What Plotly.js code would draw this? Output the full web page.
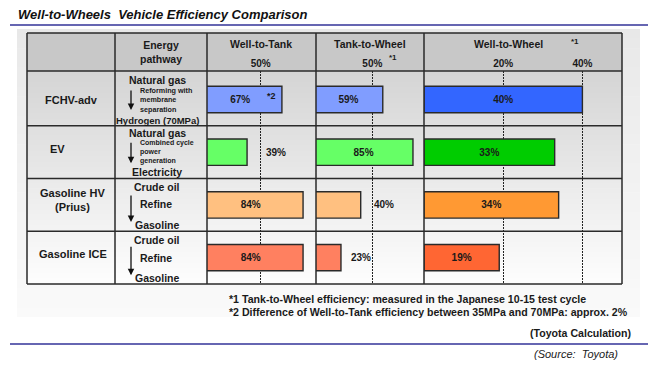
<!DOCTYPE html>
<html>
<head>
<meta charset="utf-8">
<script src="https://cdn.plot.ly/plotly-3.0.1.min.js"></script>
<style>
  html, body { margin: 0; padding: 0; background: #ffffff; }
  #chart { width: 660px; height: 366px; }
</style>
</head>
<body>
<div id="chart"></div>
<script>
// ---------------- DATA ----------------
const vehicles = ['FCHV-adv', 'EV', 'Gasoline HV (Prius)', 'Gasoline ICE'];
const vehicleLabels = ['FCHV-adv', 'EV', 'Gasoline HV<br>(Prius)', 'Gasoline ICE'];
const wellToTank = [67, 39, 84, 84];
const tankToWheel = [59, 85, 40, 23];
const wellToWheel = [40, 33, 34, 19];
const pathwaySource = ['Natural gas', 'Natural gas', 'Crude oil', 'Crude oil'];
const pathwayProcess = [
  ['Reforming with', 'membrane', 'separation'],
  ['Combined cycle', 'power', 'generation'],
  ['Refine'],
  ['Refine']
];
const pathwayProduct = ['Hydrogen (70MPa)', 'Electricity', 'Gasoline', 'Gasoline'];
const stageTitles = ['Well-to-Tank', 'Tank-to-Wheel', 'Well-to-Wheel'];
const wttTickVals = [50];
const ttwTickVals = [50];
const wtwTickVals = [20, 40];
const footnotes = [
  '*1 Tank-to-Wheel efficiency: measured in the Japanese 10-15 test cycle',
  '*2 Difference of Well-to-Tank efficiency between 35MPa and 70MPa: approx. 2%'
];
const calcNote = '(Toyota Calculation)';
const sourceNote = '(Source:  Toyota)';
const chartTitle = 'Well-to-Wheels  Vehicle Efficiency Comparison';

// ---------------- STYLE ----------------
const W = 660, H = 366;
const px = v => v / W;
const py = v => 1 - v / H;
const FONT = 'Arial, "Liberation Sans", Helvetica, sans-serif';
const TXT = '#1a1a1a';
const LINE = '#2a2a2a';
const lightColors = ['#809dff', '#66ff66', '#ffc080', '#ff8060'];
const darkColors = ['#3366ff', '#00cc00', '#ff9933', '#ff6633'];
const wttLabelPos = ['inside', 'outside', 'inside', 'inside'];
const ttwLabelPos = ['inside', 'inside', 'outside', 'outside'];
const wtwLabelPos = ['inside', 'inside', 'inside', 'inside'];

// table geometry (pixels)
const colX = [27, 115, 207, 316, 424, 622];
const tableTop = 33, headBottom = 71, tableBottom = 284;

const pct = v => v + '%';

function barTrace(values, colors, xaxis, labelPos) {
  return {
    type: 'bar', orientation: 'h',
    x: values, y: vehicles,
    xaxis: xaxis, yaxis: 'y',
    width: 0.5,
    marker: { color: colors, line: { color: LINE, width: 1.4 } },
    text: values.map((v, i) => labelPos[i] === 'inside' ? '<b>' + pct(v) + '</b>' : ''),
    textposition: 'inside',
    insidetextanchor: 'middle',
    textangle: 0,
    constraintext: 'none',
    insidetextfont: { family: FONT, size: 10, color: TXT },
    hoverinfo: 'skip',
    showlegend: false,
    cliponaxis: true
  };
}

const traces = [
  barTrace(wellToTank, lightColors, 'x', wttLabelPos),
  barTrace(tankToWheel, lightColors, 'x2', ttwLabelPos),
  barTrace(wellToWheel, darkColors, 'x3', wtwLabelPos)
];

function xAxis(domain, range, ticks) {
  return {
    domain: domain, range: range, anchor: 'y', side: 'top',
    tickvals: ticks, ticktext: ticks.map(t => '<b>' + pct(t) + '</b>'),
    ticks: '', showline: false, zeroline: false,
    showgrid: true, gridcolor: '#222', gridwidth: 1.3, griddash: '2px,1px',
    tickfont: { family: FONT, size: 10, color: TXT },
    ticklabelstandoff: 1,
    fixedrange: true
  };
}

// shapes
const shapes = [];
function gradient(x0, x1, y0, y1, g0, g1, n) {
  for (let i = 0; i < n; i++) {
    const a = y0 + (y1 - y0) * i / n;
    const b = y0 + (y1 - y0) * (i + 1) / n + 0.6;
    const g = Math.round(g0 + (g1 - g0) * (i + 0.5) / n);
    shapes.push({
      type: 'rect', xref: 'paper', yref: 'paper', layer: 'below',
      x0: px(x0), x1: px(x1), y0: py(a), y1: py(Math.min(b, y1)),
      fillcolor: `rgb(${g},${g},${g})`, line: { width: 0 }
    });
  }
}
// outer panel
gradient(17, 640, 29, 317, 232, 250, 30);
// header band
shapes.push({ type: 'rect', xref: 'paper', yref: 'paper', layer: 'below',
  x0: px(colX[0]), x1: px(colX[5]), y0: py(headBottom), y1: py(tableTop),
  fillcolor: '#c8c8c8', line: { width: 0 } });
// body gradient
gradient(colX[0], colX[5], headBottom, tableBottom, 212, 254, 40);

// grid lines (paper for outline, category positions for row separators)
const hLine = (yPix) => ({ type: 'line', xref: 'paper', yref: 'paper', layer: 'above',
  x0: px(colX[0]), x1: px(colX[5]), y0: py(yPix), y1: py(yPix), line: { color: LINE, width: 1.5 } });
shapes.push(hLine(tableTop), hLine(headBottom), hLine(tableBottom));
for (let i = 0; i < vehicles.length - 1; i++) {
  shapes.push({ type: 'line', xref: 'paper', yref: 'y', layer: 'above',
    x0: px(colX[0]), x1: px(colX[5]), y0: i + 0.5, y1: i + 0.5, line: { color: LINE, width: 1.5 } });
}
colX.forEach(x => shapes.push({ type: 'line', xref: 'paper', yref: 'paper', layer: 'above',
  x0: px(x), x1: px(x), y0: py(tableTop), y1: py(tableBottom), line: { color: LINE, width: 1.5 } }));
// blue rules
[25, 344].forEach(y => shapes.push({ type: 'line', xref: 'paper', yref: 'paper', layer: 'above',
  x0: px(10), x1: px(648), y0: py(y), y1: py(y), line: { color: '#333399', width: 1.5 } }));

// annotations
const ann = [];
function text(t, x, y, opts) {
  ann.push(Object.assign({
    text: t, x: x, y: y, xref: 'paper', yref: 'paper', showarrow: false,
    xanchor: 'center', yanchor: 'middle',
    font: { family: FONT, size: 10.5, color: TXT, weight: 'bold' }
  }, opts || {}));
}
// header
text('Energy<br>pathway', px(161), py(52));
const stageX = [261, 370, 508];
stageTitles.forEach((s, i) => text(s, px(stageX[i]), py(44)));
text('*1', px(393), py(57), { font: { family: FONT, size: 8, color: TXT, weight: 'bold' } });
text('*1', px(575), py(41), { font: { family: FONT, size: 8, color: TXT, weight: 'bold' } });

// vehicle labels
const vLabX = [71, 57, 72, 73];
const vLabShift = [0, 3, 4.5, 4];
vehicles.forEach((v, i) => text(vehicleLabels[i], px(vLabX[i]), v,
  { yref: 'y', yshift: vLabShift[i], font: { family: FONT, size: 11, color: TXT, weight: 'bold' } }));

// pathways
const procSize = [7.2, 7, 10.5, 10.5];
const procShift = [0, 0, 1, 0];
const srcShift = [20, 19, 18, 18];
const prodShift = [-21, -20, -20, -20.5];
const arrowHead = [10.5, 11, 17, 17.5];
const arrowLen = [21, 22, 28, 30];
vehicles.forEach((v, i) => {
  text(pathwaySource[i], px(157), v, { yref: 'y', yshift: srcShift[i] });
  text(pathwayProduct[i], px(157), v, { yref: 'y', yshift: prodShift[i],
    font: { family: FONT, size: i === 0 ? 9.5 : 10.5, color: TXT, weight: 'bold' } });
  text(pathwayProcess[i].join('<br>'), px(138), v, {
    yref: 'y', yshift: procShift[i], xanchor: 'left', align: 'left',
    font: { family: FONT, size: procSize[i], color: TXT, weight: 'bold' } });
  ann.push({ text: '', x: px(131), y: v, xref: 'paper', yref: 'y', yshift: -arrowHead[i],
    showarrow: true, ax: 0, ay: -arrowLen[i], axref: 'pixel', ayref: 'pixel',
    arrowhead: 2, arrowsize: 1, arrowwidth: 1.3, arrowcolor: '#111', standoff: 0, startstandoff: 0 });
});

// outside value labels
const outsideShift = { x: [0, 17, 0, 0], x2: [0, 0, 11, 8], x3: [0, 0, 0, 0] };
[[wellToTank, wttLabelPos, 'x'], [tankToWheel, ttwLabelPos, 'x2'], [wellToWheel, wtwLabelPos, 'x3']]
  .forEach(([vals, pos, ax]) => vals.forEach((val, i) => {
    if (pos[i] !== 'outside') return;
    ann.push({ text: '<b>' + pct(val) + '</b>', x: val, y: vehicles[i], xref: ax, yref: 'y',
      xanchor: 'left', yanchor: 'middle', xshift: outsideShift[ax][i], showarrow: false,
      font: { family: FONT, size: 10, color: TXT } });
  }));
// *2 marker on the FCHV well-to-tank bar
text('*2', px(271), py(96), { font: { family: FONT, size: 9, color: TXT, weight: 'bold' } });

// footnotes
footnotes.forEach((f, i) => text(f, px(227), py(299 + i * 13), { xanchor: 'left',
  font: { family: FONT, size: 10.6, color: TXT, weight: 'bold' } }));
text(calcNote, px(633), py(333), { xanchor: 'right', font: { family: FONT, size: 10.6, color: TXT, weight: 'bold' } });
text(sourceNote, px(620), py(354), { xanchor: 'right', font: { family: FONT, size: 11, color: TXT, style: 'italic', weight: 'normal' } });

const layout = {
  width: W, height: H,
  margin: { l: 0, r: 0, t: 0, b: 0, pad: 0 },
  paper_bgcolor: '#ffffff', plot_bgcolor: 'rgba(0,0,0,0)',
  title: { text: chartTitle, x: px(18), xanchor: 'left', xref: 'paper', y: py(14), yanchor: 'middle', yref: 'paper',
    font: { family: FONT, size: 13, color: '#111', weight: 'bold', style: 'italic' } },
  xaxis: xAxis([px(colX[2]), px(colX[3])], [6.8, 94.4], wttTickVals),
  xaxis2: xAxis([px(colX[3]), px(colX[4])], [1.5, 94.5], ttwTickVals),
  xaxis3: xAxis([px(colX[4]), px(colX[5])], [0, 50], wtwTickVals),
  yaxis: { domain: [py(tableBottom), py(headBottom)], type: 'category', categoryarray: vehicles,
    autorange: 'reversed', showticklabels: false, showgrid: false, zeroline: false, showline: false,
    ticks: '', fixedrange: true },
  bargap: 0.5,
  shapes: shapes,
  annotations: ann,
  showlegend: false
};

Plotly.newPlot('chart', traces, layout, { displayModeBar: false, staticPlot: true });
</script>
</body>
</html>
